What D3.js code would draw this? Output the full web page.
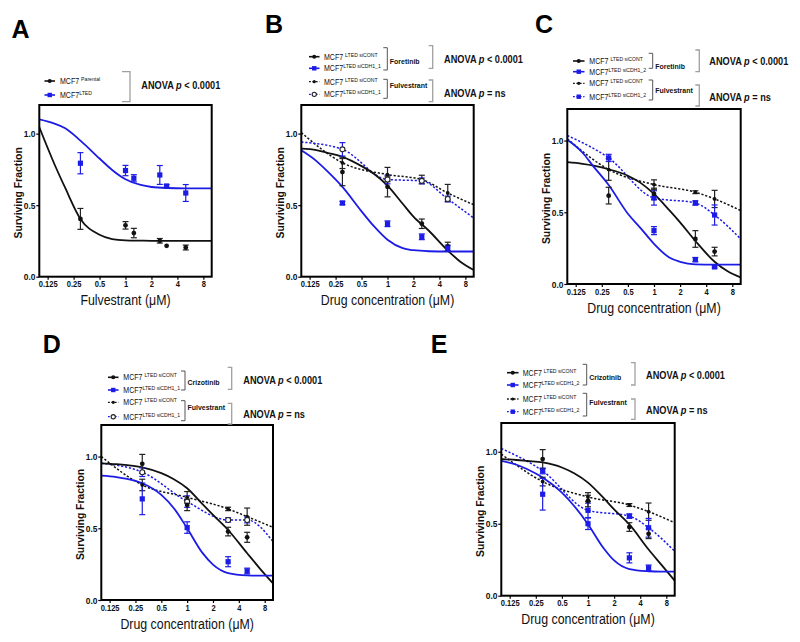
<!DOCTYPE html>
<html><head><meta charset="utf-8">
<script src="https://cdn.jsdelivr.net/npm/d3@7"></script>
<style>body{margin:0;background:#fff}svg{display:block}text{font-family:Arial,"Liberation Sans",Helvetica,sans-serif}</style>
</head><body><svg id="c" width="800" height="642"></svg>
<script>
// ---------- shared axis data ----------
const xTickValues = [0.125, 0.25, 0.5, 1, 2, 4, 8];
const xTickLabels = ["0.125", "0.25", "0.5", "1", "2", "4", "8"];
const yTickValues = [0, 0.5, 1.0];
const fitDose = [0.1, 0.15, 0.2, 0.3, 0.5, 0.7, 1, 1.5, 2, 3, 5, 7, 10];

// ---------- Panel A ----------
const A_dose = [0.3, 1, 1.25, 2.5, 3, 5];
const A_parental = [0.404, 0.359, 0.305, 0.251, 0.216, 0.204];
const A_parentalErr = [0.073, 0.026, 0.033, 0.016, 0, 0.017];
const A_lted = [0.793, 0.742, 0.688, 0.711, 0.634, 0.585];
const A_ltedErr = [0.074, 0.036, 0.025, 0.066, 0.01, 0.059];
const A_parentalFit = [1.045, 0.786, 0.62, 0.404, 0.293, 0.263, 0.254, 0.252, 0.251, 0.251, 0.251, 0.251, 0.251];
const A_ltedFit = [1.099, 1.07, 1.038, 0.951, 0.826, 0.746, 0.681, 0.641, 0.627, 0.62, 0.618, 0.618, 0.618];
const A_legendSup = ["Parental", "LTED"];

// ---------- Panel B ----------
const B_dose = [0.3, 1, 2.5, 5];
const B_lineDose = [0.1, 0.3, 1, 2.5, 5, 10];
const B_foreCont = [0.731, 0.628, 0.37, 0.211];
const B_foreContErr = [0.095, 0.07, 0.033, 0.03];
const B_foreCdh = [0.515, 0.37, 0.279, 0.2];
const B_foreCdhErr = [0.012, 0.02, 0.02, 0.02];
const B_fulvCont = [0.796, 0.714, 0.679, 0.585];
const B_fulvContErr = [0.04, 0.05, 0.03, 0.06];
const B_fulvCdh = [0.89, 0.679, 0.67, 0.543];
const B_fulvCdhErr = [0.047, 0.03, 0.02, 0.02];
const B_foreContFit = [0.895, 0.885, 0.866, 0.838, 0.773, 0.718, 0.637, 0.51, 0.42, 0.323, 0.183, 0.105, 0.047];
const B_foreCdhFit = [0.883, 0.808, 0.738, 0.628, 0.457, 0.351, 0.258, 0.199, 0.185, 0.178, 0.176, 0.176, 0.176];
const B_fulvContLine = [1.007, 0.796, 0.714, 0.679, 0.585, 0.503];
const B_fulvCdhLine = [0.941, 0.89, 0.679, 0.67, 0.543, 0.41];
const B_legendSup = ["LTED siCONT", "LTED siCDH1_1", "LTED siCONT", "LTED siCDH1_1"];

// ---------- Panel C ----------
const C_dose = [0.3, 1, 3, 5];
const C_lineDose = [0.1, 0.3, 1, 3, 5, 10];
const C_foreCont = [0.616, 0.628, 0.314, 0.226];
const C_foreContErr = [0.058, 0.04, 0.058, 0.03];
const C_foreCdh = [null, 0.372, 0.17, 0.119];
const C_foreCdhErr = [0, 0.028, 0.015, 0.008];
const C_fulvCont = [0.798, 0.693, 0.64, 0.593];
const C_fulvContErr = [0.075, 0.033, 0.01, 0.06];
const C_fulvCdh = [0.879, 0.6, 0.565, 0.481];
const C_fulvCdhErr = [0.025, 0.05, 0.015, 0.07];
const C_foreContFit = [0.849, 0.838, 0.826, 0.8, 0.755, 0.705, 0.628, 0.515, 0.43, 0.3, 0.155, 0.09, 0.045];
const C_foreCdhFit = [1.005, 0.915, 0.82, 0.69, 0.49, 0.39, 0.28, 0.185, 0.155, 0.137, 0.135, 0.135, 0.135];
const C_fulvContLine = [1.012, 0.798, 0.693, 0.64, 0.593, 0.512];
const C_fulvCdhLine = [1.035, 0.879, 0.6, 0.565, 0.481, 0.314];
const C_legendSup = ["LTED siCONT", "LTED siCDH1_2", "LTED siCONT", "LTED siCDH1_2"];

// ---------- Panel D ----------
const D_dose = [0.3, 1, 3, 5];
const D_lineDose = [0.1, 0.3, 1, 3, 5, 10];
const D_crizCont = [0.949, 0.663, 0.477, 0.437];
const D_crizContErr = [0.066, 0.04, 0.03, 0.035];
const D_crizCdh = [0.705, 0.505, 0.267, 0.202];
const D_crizCdhErr = [0.11, 0.04, 0.035, 0.02];
const D_fulvCont = [0.802, 0.716, 0.635, 0.581];
const D_fulvContErr = [0.04, 0.04, 0.012, 0.06];
const D_fulvCdh = [0.891, 0.686, 0.558, 0.558];
const D_fulvCdhErr = [0.03, 0.04, 0.015, 0.02];
const D_crizContFit = [0.953, 0.947, 0.94, 0.925, 0.884, 0.842, 0.779, 0.67, 0.593, 0.488, 0.326, 0.221, 0.116];
const D_crizCdhFit = [0.867, 0.857, 0.844, 0.814, 0.733, 0.64, 0.5, 0.33, 0.247, 0.188, 0.172, 0.17, 0.17];
const D_fulvContLine = [1.0, 0.802, 0.716, 0.635, 0.581, 0.507];
const D_fulvCdhLine = [0.953, 0.891, 0.686, 0.558, 0.558, 0.407];
const D_legendSup = ["LTED siCONT", "LTED siCDH1_1", "LTED siCONT", "LTED siCDH1_1"];

// ---------- Panel E ----------
const E_dose = [0.3, 1, 3, 5];
const E_lineDose = [0.1, 0.3, 1, 3, 5, 10];
const E_crizCont = [0.949, 0.658, 0.477, 0.43];
const E_crizContErr = [0.066, 0.04, 0.03, 0.033];
const E_crizCdh = [0.705, 0.5, 0.263, 0.193];
const E_crizCdhErr = [0.11, 0.04, 0.035, 0.02];
const E_fulvCont = [0.793, 0.686, 0.63, 0.584];
const E_fulvContErr = [0.03, 0.03, 0.01, 0.06];
const E_fulvCdh = [0.867, 0.593, 0.553, 0.472];
const E_fulvCdhErr = [0.02, 0.05, 0.015, 0.065];
const E_crizContFit = [0.949, 0.943, 0.936, 0.926, 0.891, 0.849, 0.786, 0.681, 0.6, 0.495, 0.321, 0.216, 0.105];
const E_crizCdhFit = [0.937, 0.91, 0.879, 0.821, 0.716, 0.62, 0.497, 0.333, 0.245, 0.185, 0.17, 0.167, 0.167];
const E_fulvContLine = [0.984, 0.793, 0.686, 0.63, 0.584, 0.507];
const E_fulvCdhLine = [1.023, 0.867, 0.593, 0.553, 0.472, 0.309];
const E_legendSup = ["LTED siCONT", "LTED siCDH1_2", "LTED siCONT", "LTED siCDH1_2"];

// ---------- rendering ----------
const svg = d3.select("#c");
const BLUE = "#1c1ce6";
const BLACK = "#111";
const SX = 0.86;

function label(parent, x, y, parts, size, weight, anchor) {
  const t = parent.append("text")
    .attr("transform", `translate(${x},${y}) scale(${SX},1)`)
    .attr("font-size", size).attr("font-weight", weight || "normal")
    .attr("text-anchor", anchor || "start").attr("fill", "#111");
  parts.forEach(p => {
    const ts = t.append("tspan").text(p.t);
    if (p.i) ts.attr("font-style", "italic");
    if (p.s) ts.attr("font-size", p.s);
    if (p.dy) ts.attr("dy", p.dy);
  });
  return t;
}

function marker(g, type, cx, cy, color, k) {
  k = k || 1;
  if (type === "circle") g.append("circle").attr("cx", cx).attr("cy", cy).attr("r", 2.4 * k).attr("fill", color);
  else if (type === "dot") g.append("circle").attr("cx", cx).attr("cy", cy).attr("r", 1.9 * k).attr("fill", color);
  else if (type === "square") g.append("rect").attr("x", cx - 2.6 * k).attr("y", cy - 2.6 * k).attr("width", 5.2 * k).attr("height", 5.2 * k).attr("fill", color);
  else if (type === "open") g.append("circle").attr("cx", cx).attr("cy", cy).attr("r", 2.5 * k).attr("fill", "#fff").attr("stroke", "#222").attr("stroke-width", 1.1);
}

function drawPanel(p) {
  const g = svg.append("g");
  const x = d3.scaleLog().domain([0.1, 10]).range([p.left, p.right]);
  const y = d3.scaleLinear().domain([0, p.ymax]).range([p.bottom, p.top]);

  // curves and connecting lines
  p.curves.forEach(c => {
    const line = d3.line().x((d, i) => x(c.dose[i])).y(d => y(d)).curve(d3.curveMonotoneX);
    g.append("path").datum(c.vals).attr("d", line).attr("fill", "none")
      .attr("stroke", c.color).attr("stroke-width", c.dashed ? 1.5 : 1.8)
      .attr("stroke-dasharray", c.dashed ? "2.2,1.8" : null);
  });
  // error bars
  p.points.forEach(s => {
    s.vals.forEach((v, i) => {
      if (v == null || !s.errs[i]) return;
      const cx = x(s.dose[i]), e = s.errs[i];
      const ec = s.color === BLUE ? BLUE : "#222";
      g.append("line").attr("x1", cx).attr("x2", cx).attr("y1", y(v - e)).attr("y2", y(v + e)).attr("stroke", ec).attr("stroke-width", 1.2);
      [v - e, v + e].forEach(b => g.append("line").attr("x1", cx - 3).attr("x2", cx + 3).attr("y1", y(b)).attr("y2", y(b)).attr("stroke", ec).attr("stroke-width", 1.2));
    });
  });
  // markers
  p.points.forEach(s => {
    s.vals.forEach((v, i) => { if (v != null) marker(g, s.marker, x(s.dose[i]), y(v), s.color); });
  });

  // axes
  const xa = g.append("g").attr("transform", `translate(0,${p.bottom})`)
    .call(d3.axisBottom(x).tickValues(xTickValues).tickFormat((d, i) => xTickLabels[i]).tickSize(3).tickSizeOuter(0).tickPadding(1.5));
  xa.select(".domain").remove();
  xa.selectAll("line").attr("stroke", "#000").attr("stroke-width", 1.2);
  xa.selectAll("text").attr("font-size", 8.8).attr("font-weight", "bold").attr("font-family", "Arial, 'Liberation Sans', sans-serif").attr("fill", "#111").attr("transform", `scale(${SX},1)`);
  xa.attr("font-family", null);

  const ya = g.append("g").attr("transform", `translate(${p.left},0)`)
    .call(d3.axisLeft(y).tickValues(yTickValues).tickFormat(d3.format(".1f")).tickSize(3).tickSizeOuter(0).tickPadding(1.5));
  ya.select(".domain").remove();
  ya.selectAll("line").attr("stroke", "#000").attr("stroke-width", 1.2);
  ya.selectAll("text").attr("font-size", 9.8).attr("font-weight", "bold").attr("font-family", "Arial, 'Liberation Sans', sans-serif").attr("fill", "#111").attr("transform", `scale(${SX},1)`);
  ya.attr("font-family", null);

  // frame
  g.append("rect").attr("x", p.left).attr("y", p.top).attr("width", p.right - p.left).attr("height", p.bottom - p.top)
    .attr("fill", "none").attr("stroke", "#000").attr("stroke-width", 2);

  // axis titles
  label(g, (p.left + p.right) / 2, p.bottom + 28.5, [{ t: p.xTitle }], 14.4, "normal", "middle");
  g.append("text").attr("transform", `translate(${p.left - 21},${(p.top + p.bottom) / 2 + 2}) rotate(-90)`)
    .attr("text-anchor", "middle").attr("dy", "0.35em").attr("font-size", 10.4).attr("font-weight", "bold").attr("fill", "#111")
    .text("Surviving Fraction");

  // panel letter
  g.append("text").attr("x", p.letterX).attr("y", p.letterY).attr("font-size", 25).attr("font-weight", "bold").attr("fill", "#000").text(p.letter);

  // legend
  const L = p.legend;
  L.rows.forEach((r, i) => {
    const ry = L.rowY[i];
    g.append("line").attr("x1", L.lineX[0]).attr("x2", L.lineX[1]).attr("y1", ry).attr("y2", ry)
      .attr("stroke", r.color).attr("stroke-width", r.dashed ? 1.3 : 1.6).attr("stroke-dasharray", r.dashed ? "1.8,1.6" : null);
    marker(g, r.marker, (L.lineX[0] + L.lineX[1]) / 2, ry, r.color, 0.85);
    label(g, L.textX, ry + 3, [{ t: "MCF7" + (r.space ? "\u00A0" : "") }, { t: L.sup[i], s: 6, dy: -3 }], 8.2, "normal", "start");
  });
  (L.small || []).forEach(b => {
    g.append("path").attr("d", `M${b.x - 4},${b.y0} H${b.x} V${b.y1} H${b.x - 4}`).attr("fill", "none").attr("stroke", "#555").attr("stroke-width", 1);
    label(g, b.x + 2.5, b.ty + 2.9, [{ t: b.text }], 8.1, "bold", "start");
  });
  L.big.forEach(b => {
    g.append("path").attr("d", `M${b.x - b.w},${b.y0} H${b.x} V${b.y1} H${b.x - b.w}`).attr("fill", "none").attr("stroke", "#a0a0a0").attr("stroke-width", 1.3);
    label(g, L.anovaX, b.ay + 3.8, [{ t: "ANOVA " }, { t: "p", i: true }, { t: b.stat }], 10.7, "bold", "start");
  });
}

const rowsBD = [
  { color: BLACK, dashed: false, marker: "circle", space: true },
  { color: BLUE, dashed: false, marker: "square", space: false },
  { color: BLACK, dashed: true, marker: "dot", space: true },
  { color: BLUE, dashed: true, marker: "open", space: false }];
const rowsCE = [
  { color: BLACK, dashed: false, marker: "circle", space: true },
  { color: BLUE, dashed: false, marker: "square", space: false },
  { color: BLACK, dashed: true, marker: "dot", space: true },
  { color: BLUE, dashed: true, marker: "square", space: false }];

function fourSeries(dose, lineDose, sCont, sContErr, sCdh, sCdhErr, fCont, fContErr, fCdh, fCdhErr, sContFit, sCdhFit, fContLine, fCdhLine, openMarker) {
  return {
    curves: [
      { dose: lineDose, vals: fContLine, color: BLACK, dashed: true },
      { dose: lineDose, vals: fCdhLine, color: BLUE, dashed: true },
      { dose: fitDose, vals: sContFit, color: BLACK },
      { dose: fitDose, vals: sCdhFit, color: BLUE }],
    points: [
      { dose: dose, vals: fCont, errs: fContErr, color: BLACK, marker: "dot" },
      { dose: dose, vals: fCdh, errs: fCdhErr, color: BLUE, marker: openMarker ? "open" : "square" },
      { dose: dose, vals: sCont, errs: sContErr, color: BLACK, marker: "circle" },
      { dose: dose, vals: sCdh, errs: sCdhErr, color: BLUE, marker: "square" }]
  };
}

// Panel A
drawPanel({
  left: 39.3, right: 211.7, top: 105, bottom: 276.7, ymax: 1.2,
  letter: "A", letterX: 11.5, letterY: 38,
  xTitle: "Fulvestrant (\u03BCM)",
  curves: [{ dose: fitDose, vals: A_parentalFit, color: BLACK }, { dose: fitDose, vals: A_ltedFit, color: BLUE }],
  points: [
    { dose: A_dose, vals: A_parental, errs: A_parentalErr, color: BLACK, marker: "circle" },
    { dose: A_dose, vals: A_lted, errs: A_ltedErr, color: BLUE, marker: "square" }],
  legend: {
    rows: [{ color: BLACK, marker: "circle", space: true }, { color: BLUE, marker: "square", space: false }],
    sup: A_legendSup, rowY: [81, 95], lineX: [44.5, 55], textX: 60,
    big: [{ x: 130, y0: 71.7, y1: 101.7, w: 8, ay: 85, stat: " < 0.0001" }], anovaX: 141.3
  }
});

// Panel B
drawPanel(Object.assign({
  left: 301.3, right: 473.7, top: 105, bottom: 276.7, ymax: 1.2,
  letter: "B", letterX: 265, letterY: 33.3,
  xTitle: "Drug concentration (\u03BCM)",
  legend: {
    rows: rowsBD, sup: B_legendSup, rowY: [56.7, 68.3, 81.7, 94.3], lineX: [309, 319.5], textX: 324,
    small: [{ x: 387.3, y0: 47.7, y1: 70, ty: 61, text: "Foretinib" }, { x: 387.3, y0: 79.3, y1: 98.3, ty: 85, text: "Fulvestrant" }],
    big: [{ x: 432.7, y0: 45.7, y1: 68.3, w: 4, ay: 59.3, stat: " < 0.0001" }, { x: 432.7, y0: 80, y1: 101.7, w: 4, ay: 92.7, stat: " = ns" }],
    anovaX: 444
  }
}, fourSeries(B_dose, B_lineDose, B_foreCont, B_foreContErr, B_foreCdh, B_foreCdhErr, B_fulvCont, B_fulvContErr, B_fulvCdh, B_fulvCdhErr, B_foreContFit, B_foreCdhFit, B_fulvContLine, B_fulvCdhLine, true)));

// Panel C
drawPanel(Object.assign({
  left: 567.3, right: 740.7, top: 109, bottom: 284, ymax: 1.22,
  letter: "C", letterX: 535, letterY: 33,
  xTitle: "Drug concentration (\u03BCM)",
  legend: {
    rows: rowsCE, sup: C_legendSup, rowY: [61, 71.7, 83.3, 96.7], lineX: [573, 584.5], textX: 589.3,
    small: [{ x: 652.7, y0: 53.3, y1: 68.3, ty: 66, text: "Foretinib" }, { x: 652.7, y0: 80, y1: 100, ty: 89.7, text: "Fulvestrant" }],
    big: [{ x: 699.3, y0: 50, y1: 71.7, w: 4, ay: 61, stat: " < 0.0001" }, { x: 699.3, y0: 85, y1: 106, w: 4, ay: 96.7, stat: " = ns" }],
    anovaX: 709.3
  }
}, fourSeries(C_dose, C_lineDose, C_foreCont, C_foreContErr, C_foreCdh, C_foreCdhErr, C_fulvCont, C_fulvContErr, C_fulvCdh, C_fulvCdhErr, C_foreContFit, C_foreCdhFit, C_fulvContLine, C_fulvCdhLine, false)));

// Panel D
drawPanel(Object.assign({
  left: 101.3, right: 273, top: 425, bottom: 600, ymax: 1.22,
  letter: "D", letterX: 42.7, letterY: 353.3,
  xTitle: "Drug concentration (\u03BCM)",
  legend: {
    rows: rowsBD, sup: D_legendSup, rowY: [377.3, 390, 402.3, 416.7], lineX: [108, 118.5], textX: 123.3,
    small: [{ x: 185, y0: 371, y1: 390, ty: 381.7, text: "Crizotinib" }, { x: 185, y0: 400.7, y1: 420.7, ty: 407.3, text: "Fulvestrant" }],
    big: [{ x: 231.7, y0: 367.3, y1: 389.3, w: 4, ay: 380, stat: " < 0.0001" }, { x: 231.7, y0: 403.3, y1: 424, w: 4, ay: 414.3, stat: " = ns" }],
    anovaX: 243.3
  }
}, fourSeries(D_dose, D_lineDose, D_crizCont, D_crizContErr, D_crizCdh, D_crizCdhErr, D_fulvCont, D_fulvContErr, D_fulvCdh, D_fulvCdhErr, D_crizContFit, D_crizCdhFit, D_fulvContLine, D_fulvCdhLine, true)));

// Panel E
drawPanel(Object.assign({
  left: 501.3, right: 674.7, top: 423, bottom: 595.7, ymax: 1.2,
  letter: "E", letterX: 430.7, letterY: 353,
  xTitle: "Drug concentration (\u03BCM)",
  legend: {
    rows: rowsCE, sup: E_legendSup, rowY: [372.7, 385, 399, 411.7], lineX: [507, 518.5], textX: 522.7,
    small: [{ x: 586.7, y0: 364.3, y1: 385, ty: 376.7, text: "Crizotinib" }, { x: 586.7, y0: 393.3, y1: 416, ty: 401.7, text: "Fulvestrant" }],
    big: [{ x: 635, y0: 362.7, y1: 385, w: 4, ay: 375, stat: " < 0.0001" }, { x: 635, y0: 399, y1: 419.3, w: 4, ay: 410, stat: " = ns" }],
    anovaX: 646
  }
}, fourSeries(E_dose, E_lineDose, E_crizCont, E_crizContErr, E_crizCdh, E_crizCdhErr, E_fulvCont, E_fulvContErr, E_fulvCdh, E_fulvCdhErr, E_crizContFit, E_crizCdhFit, E_fulvContLine, E_fulvCdhLine, false)));
</script>
</body></html>
